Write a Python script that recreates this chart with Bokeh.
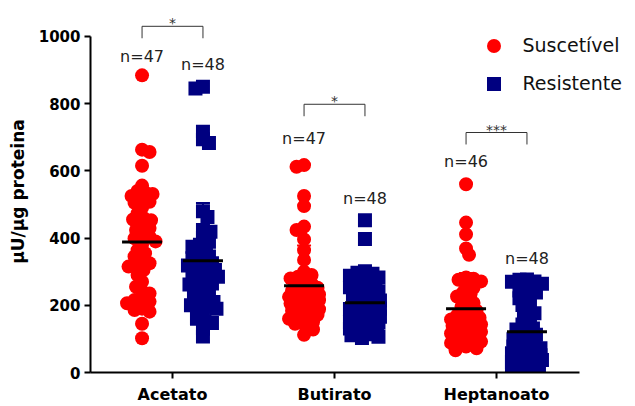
import numpy as np
from bokeh.plotting import figure
from bokeh.models import Range1d, FixedTicker, Legend, LegendItem, ColumnDataSource
from bokeh.core.properties import value
from bokeh.embed import file_html
from bokeh.resources import INLINE

# ---------------- data ----------------
categories = ["Acetato", "Butirato", "Heptanoato"]
series_names = ["Suscetível", "Resistente"]
series_colors = ["#FF0000", "#000080"]

acetato_susc = [884, 663, 656, 615, 556, 540, 536, 531, 525, 515, 508, 505, 490, 473, 460,
                455, 453, 439, 430, 424, 409, 404, 399, 390, 380, 364, 355, 345, 330, 325,
                315, 315, 305, 290, 270, 255, 241, 235, 220, 216, 211, 206, 190, 186, 181,
                145, 102]
acetato_res = [850, 845, 716, 694, 683, 480, 463, 424, 419, 400, 389, 380, 374, 365, 355,
               345, 340, 335, 325, 320, 318, 310, 305, 300, 298, 290, 285, 278, 270, 265,
               262, 255, 248, 240, 231, 225, 215, 210, 206, 200, 196, 190, 175, 160, 151,
               147, 130, 107]
butirato_susc = [617, 612, 525, 495, 434, 424, 396, 364, 335, 300, 290, 285, 280, 270, 265,
                 258, 252, 248, 243, 240, 236, 232, 228, 225, 222, 218, 215, 212, 208, 205,
                 200, 196, 192, 188, 184, 180, 176, 172, 168, 164, 160, 156, 150, 145, 138,
                 128, 112]
butirato_res = [453, 397, 301, 297, 294, 288, 283, 281, 274, 268, 266, 259, 254, 251, 243,
                241, 233, 231, 226, 219, 214, 211, 204, 199, 197, 190, 189, 183, 178, 177,
                171, 166, 163, 158, 157, 150, 149, 143, 139, 137, 131, 127, 122, 121, 114,
                111, 106, 103]
heptanoato_susc = [560, 446, 411, 369, 350, 283, 279, 276, 271, 170, 258, 252, 150, 238, 233,
                   226, 125, 214, 207, 105, 196, 190, 184, 90, 173, 168, 163, 158, 152, 149,
                   143, 139, 131, 127, 121, 116, 112, 106, 101, 97, 92, 88, 83, 77, 72, 66]
heptanoato_res = [277, 276, 271, 270, 264, 261, 250, 244, 238, 226, 221, 207, 201, 184, 176,
                  165, 150, 143, 131, 128, 117, 112, 102, 99, 91, 87, 80, 77, 72, 66, 64,
                  58, 57, 51, 49, 44, 43, 38, 37, 32, 31, 27, 26, 22, 21, 18, 17, 14]

groups = [[acetato_susc, acetato_res],
          [butirato_susc, butirato_res],
          [heptanoato_susc, heptanoato_res]]
significance = ["*", "*", "***"]
y_ticks = [0, 200, 400, 600, 800, 1000]

# ---------------- layout constants ----------------
W, H = 635, 406
LEFT, TOP, BOTTOM = 90, 10, 33
X0 = 0.4938
AXIS_END = 3.5123
PX_X = 489 / (AXIS_END - X0)      # px per x unit
X1 = X0 + (W - LEFT) / PX_X
Y0, Y1 = 0, 1077
PX_Y = (H - TOP - BOTTOM) / (Y1 - Y0)   # px per y unit
GROUP_OFF = [-0.188, 0.188]
bracket_level = [1030, 798, 714]
n_label_y = [[940, 915], [697, 519], [628, 338]]


def swarm(vals, d=7.0, step=1.5, wmax=16.0):
    vals = np.asarray(vals, dtype=float)
    order = np.argsort(-vals, kind="stable")
    cands = [0.0]
    k = 1
    while k * step <= wmax:
        cands += [k * step, -k * step]
        k += 1
    placed = []
    offs = np.zeros(len(vals))
    flip = 1
    for i in order:
        y = vals[i] * PX_Y
        chosen = None
        best_c, best_d = 0.0, -1.0
        for c in cands:
            c = c * flip
            md = min((np.hypot(c - px, y - py) for px, py in placed), default=1e9)
            if md >= d:
                chosen = c
                break
            if md > best_d:
                best_d, best_c = md, c
        if chosen is None:
            chosen = best_c
        flip = -flip
        offs[i] = chosen
        placed.append((chosen, y))
    return offs / PX_X


p = figure(width=W, height=H, output_backend="svg", toolbar_location=None,
           x_range=Range1d(X0, X1), y_range=Range1d(Y0, Y1),
           min_border_left=LEFT, min_border_right=0,
           min_border_top=TOP, min_border_bottom=BOTTOM)
p.outline_line_color = None
p.xgrid.visible = False
p.ygrid.visible = False
p.background_fill_color = "white"
p.border_fill_color = "white"

renderers = [None, None]
for ci, (cat, pair) in enumerate(zip(categories, groups)):
    for si, vals in enumerate(pair):
        cx = ci + 1 + GROUP_OFF[si]
        xs = cx + swarm(vals)
        src = ColumnDataSource(dict(x=xs, y=vals))
        r = p.scatter("x", "y", source=src, size=14,
                      marker="circle" if si == 0 else "square",
                      fill_color=series_colors[si], line_color=None)
        if renderers[si] is None:
            renderers[si] = r
        m = float(np.mean(vals))
        sd = float(np.std(vals, ddof=1))
        cap = 7 / PX_X
        p.segment(x0=[cx, cx - cap, cx - cap], x1=[cx, cx + cap, cx + cap],
                  y0=[m - sd, m + sd, m - sd], y1=[m + sd, m + sd, m - sd],
                  line_color=series_colors[si], line_width=2)
        half = 20 / PX_X
        p.segment(x0=[cx - half], x1=[cx + half], y0=[m], y1=[m],
                  line_color="black", line_width=3)
        p.text(x=[cx], y=[n_label_y[ci][si]], text=["n=%d" % len(vals)],
               text_font=value("DejaVu Sans"), text_font_size="16px",
               text_color="#222222", text_align="center", text_baseline="middle")
    # significance bracket
    xl = ci + 1 + GROUP_OFF[0]
    xr = ci + 1 + GROUP_OFF[1]
    lv = bracket_level[ci]
    dy = 12 / PX_Y
    p.line(x=[xl, xl, xr, xr], y=[lv - dy, lv, lv, lv - dy], line_color="#333333", line_width=1)
    p.text(x=[(xl + xr) / 2], y=[lv], text=[significance[ci]], y_offset=-3,
           text_font=value("DejaVu Sans"), text_font_size="14px",
           text_color="#333333", text_align="center", text_baseline="alphabetic")

# axes
p.yaxis.ticker = FixedTicker(ticks=y_ticks)
p.yaxis.bounds = (0, 1000)
p.xaxis.ticker = FixedTicker(ticks=[1, 2, 3])
p.xaxis.bounds = (X0, AXIS_END)
p.xaxis.major_label_overrides = {1: categories[0], 2: categories[1], 3: categories[2]}
for ax in (p.xaxis, p.yaxis):
    ax.axis_line_width = 2
    ax.axis_line_color = "black"
    ax.major_tick_line_width = 2
    ax.major_tick_line_color = "black"
    ax.major_tick_out = 6
    ax.major_tick_in = 0
    ax.minor_tick_line_color = None
    ax.major_label_text_font = "DejaVu Sans"
    ax.major_label_text_font_style = "bold"
    ax.major_label_text_color = "black"
p.yaxis.major_label_text_font_size = "15px"
p.yaxis.major_label_standoff = 4
p.xaxis.major_label_text_font_size = "16px"
p.xaxis.major_label_standoff = 6
p.yaxis.axis_label = "µU/µg proteina"
p.yaxis.axis_label_text_font = "DejaVu Sans"
p.yaxis.axis_label_text_font_style = "bold"
p.yaxis.axis_label_text_font_size = "17px"
p.yaxis.axis_label_text_color = "black"
p.yaxis.axis_label_standoff = 8

legend = Legend(items=[LegendItem(label=series_names[0], renderers=[renderers[0]]),
                       LegendItem(label=series_names[1], renderers=[renderers[1]])],
                location=(385.5, 271.5), glyph_width=35, glyph_height=35, spacing=3,
                padding=0, margin=0, label_standoff=12, border_line_color=None,
                background_fill_alpha=0, label_text_font="DejaVu Sans",
                label_text_font_size="19px", label_text_color="#111111")
p.add_layout(legend)

open("out.html", "w").write(file_html(p, INLINE))
